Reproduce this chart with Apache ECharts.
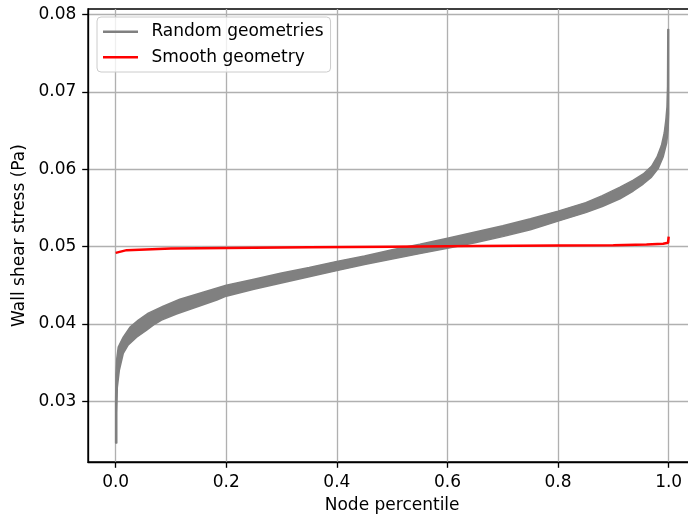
<!DOCTYPE html>
<html>
<head>
<meta charset="utf-8">
<script src="https://cdn.jsdelivr.net/npm/echarts@6/dist/echarts.min.js"></script>
<style>
html,body{margin:0;padding:0;background:#fff;overflow:hidden;}
#chart{width:688px;height:521px;}
</style>
</head>
<body>
<div id="chart"></div>
<script>
// ---- data ----
var xTicks = [0.0, 0.2, 0.4, 0.6, 0.8, 1.0];
var yTicks = [0.03, 0.04, 0.05, 0.06, 0.07, 0.08];

// Random geometries: upper (top-left) edge of the band of curves [percentile, Pa]
var randomUpper = [
  [0, 0.0246], [0, 0.0300], [0.0005, 0.0335], [0.002, 0.0355], [0.0047, 0.0370],
  [0.0137, 0.0383], [0.026, 0.0396], [0.041, 0.0405], [0.059, 0.0414], [0.086, 0.0423],
  [0.116, 0.0432], [0.158, 0.0441], [0.2, 0.0450], [0.25, 0.0458], [0.3, 0.0466],
  [0.35, 0.0473], [0.4, 0.0481], [0.45, 0.0488], [0.5, 0.0496], [0.55, 0.0503],
  [0.6, 0.0511], [0.65, 0.0519], [0.7, 0.0527], [0.75, 0.0536], [0.8, 0.0546],
  [0.85, 0.0557], [0.88, 0.0566], [0.912, 0.0577], [0.936, 0.0586], [0.954, 0.0594],
  [0.969, 0.0604], [0.979, 0.0616], [0.987, 0.0631], [0.992, 0.0647], [0.995, 0.0664],
  [0.997, 0.0681], [0.998, 0.0707], [0.9985, 0.0781]
];
// Random geometries: lower (bottom-right) edge of the band
var randomLower = [
  [0.002, 0.0246], [0.002, 0.0285], [0.003, 0.0318], [0.0066, 0.0340], [0.0138, 0.0362],
  [0.0228, 0.0373], [0.038, 0.0383], [0.056, 0.0392], [0.071, 0.0400], [0.083, 0.0405],
  [0.11, 0.0413], [0.1465, 0.0422], [0.183, 0.0431], [0.2, 0.0436], [0.25, 0.0445],
  [0.3, 0.0453], [0.35, 0.0461], [0.4, 0.0469], [0.45, 0.0477], [0.5, 0.0484],
  [0.55, 0.0491], [0.6, 0.0498], [0.65, 0.0505], [0.7, 0.0513], [0.75, 0.0522],
  [0.8, 0.0533], [0.85, 0.0544], [0.88, 0.0552], [0.912, 0.0562], [0.936, 0.0572],
  [0.954, 0.0581], [0.969, 0.0590], [0.981, 0.0601], [0.990, 0.0616], [0.9964, 0.0634],
  [0.999, 0.0651], [1.0, 0.0672], [1.0, 0.0781]
];
// Smooth geometry curve
var smoothCurve = [
  [0, 0.0492], [0.002, 0.0494], [0.02, 0.04955], [0.1, 0.04975], [0.2, 0.04982],
  [0.35, 0.04992], [0.5, 0.0500], [0.65, 0.05008], [0.8, 0.05015], [0.9, 0.0502],
  [0.96, 0.05028], [0.99, 0.05038], [0.999, 0.0505], [1.0, 0.0513]
];

var FONT = 'DejaVu Sans';
var FS = 17;

var chart = echarts.init(document.getElementById('chart'), null, {renderer: 'canvas'});
var option = {
  animation: false,
  backgroundColor: '#ffffff',
  textStyle: {fontFamily: FONT},
  grid: {
    left: 88, top: 9, width: 608.3, height: 453,
    outerBoundsMode: 'none',
    containLabel: false,
    show: true, borderColor: '#000000', borderWidth: 1.33, backgroundColor: 'transparent'
  },
  legend: {
    orient: 'vertical',
    left: 97, top: 17,
    padding: [4.7, 7, 4.7, 6],
    itemWidth: 35, itemHeight: 2.6, itemGap: 5.6,
    backgroundColor: 'rgba(255,255,255,0.8)',
    borderColor: '#cccccc', borderWidth: 1, borderRadius: 4,
    textStyle: {fontFamily: FONT, fontSize: FS, color: '#000', lineHeight: 20, padding: [0, 0, 0, 8.4]},
    data: [
      {name: 'Random geometries', icon: 'rect'},
      {name: 'Smooth geometry', icon: 'rect'}
    ]
  },
  xAxis: {
    type: 'value',
    min: -0.05, max: 1.05,
    name: 'Node percentile', nameLocation: 'middle', nameGap: 35,
    nameTextStyle: {fontFamily: FONT, fontSize: FS, color: '#000'},
    axisLine: {show: true, onZero: false, lineStyle: {color: '#000', width: 1.33}},
    axisTick: {show: true, inside: false, length: 5.8, lineStyle: {color: '#000', width: 1.33}, customValues: xTicks},
    axisLabel: {show: true, margin: 11.6, fontFamily: FONT, fontSize: FS, color: '#000',
      customValues: xTicks, formatter: function (v) { return v.toFixed(1); }},
    splitLine: {show: true, lineStyle: {color: '#b0b0b0', width: 1.33}}
  },
  yAxis: {
    type: 'value',
    min: 0.02215, max: 0.08074,
    name: 'Wall shear stress (Pa)', nameLocation: 'middle', nameGap: 58,
    nameTextStyle: {fontFamily: FONT, fontSize: FS, color: '#000'},
    axisLine: {show: true, onZero: false, lineStyle: {color: '#000', width: 1.33}},
    axisTick: {show: true, inside: false, length: 5.8, lineStyle: {color: '#000', width: 1.33}, customValues: yTicks},
    axisLabel: {show: true, margin: 11.6, fontFamily: FONT, fontSize: FS, color: '#000',
      customValues: yTicks, formatter: function (v) { return v.toFixed(2); }},
    splitLine: {show: true, lineStyle: {color: '#b0b0b0', width: 1.33}}
  },
  series: [
    {
      name: 'Random geometries',
      type: 'custom',
      coordinateSystem: 'cartesian2d',
      itemStyle: {color: '#808080'},
      data: [randomUpper[0]],
      clip: true,
      renderItem: function (params, api) {
        var pts = [];
        for (var i = 0; i < randomUpper.length; i++) pts.push(api.coord(randomUpper[i]));
        for (var j = randomLower.length - 1; j >= 0; j--) pts.push(api.coord(randomLower[j]));
        return {
          type: 'polygon',
          shape: {points: pts, smooth: 0},
          style: {fill: '#808080', stroke: '#808080', lineWidth: 1.5, lineJoin: 'round'}
        };
      }
    },
    {
      name: 'Smooth geometry',
      type: 'line',
      data: smoothCurve,
      showSymbol: false,
      symbol: 'none',
      lineStyle: {color: '#ff0000', width: 2.5},
      itemStyle: {color: '#ff0000'},
      z: 3
    }
  ]
};
chart.setOption(option);
</script>
</body>
</html>
